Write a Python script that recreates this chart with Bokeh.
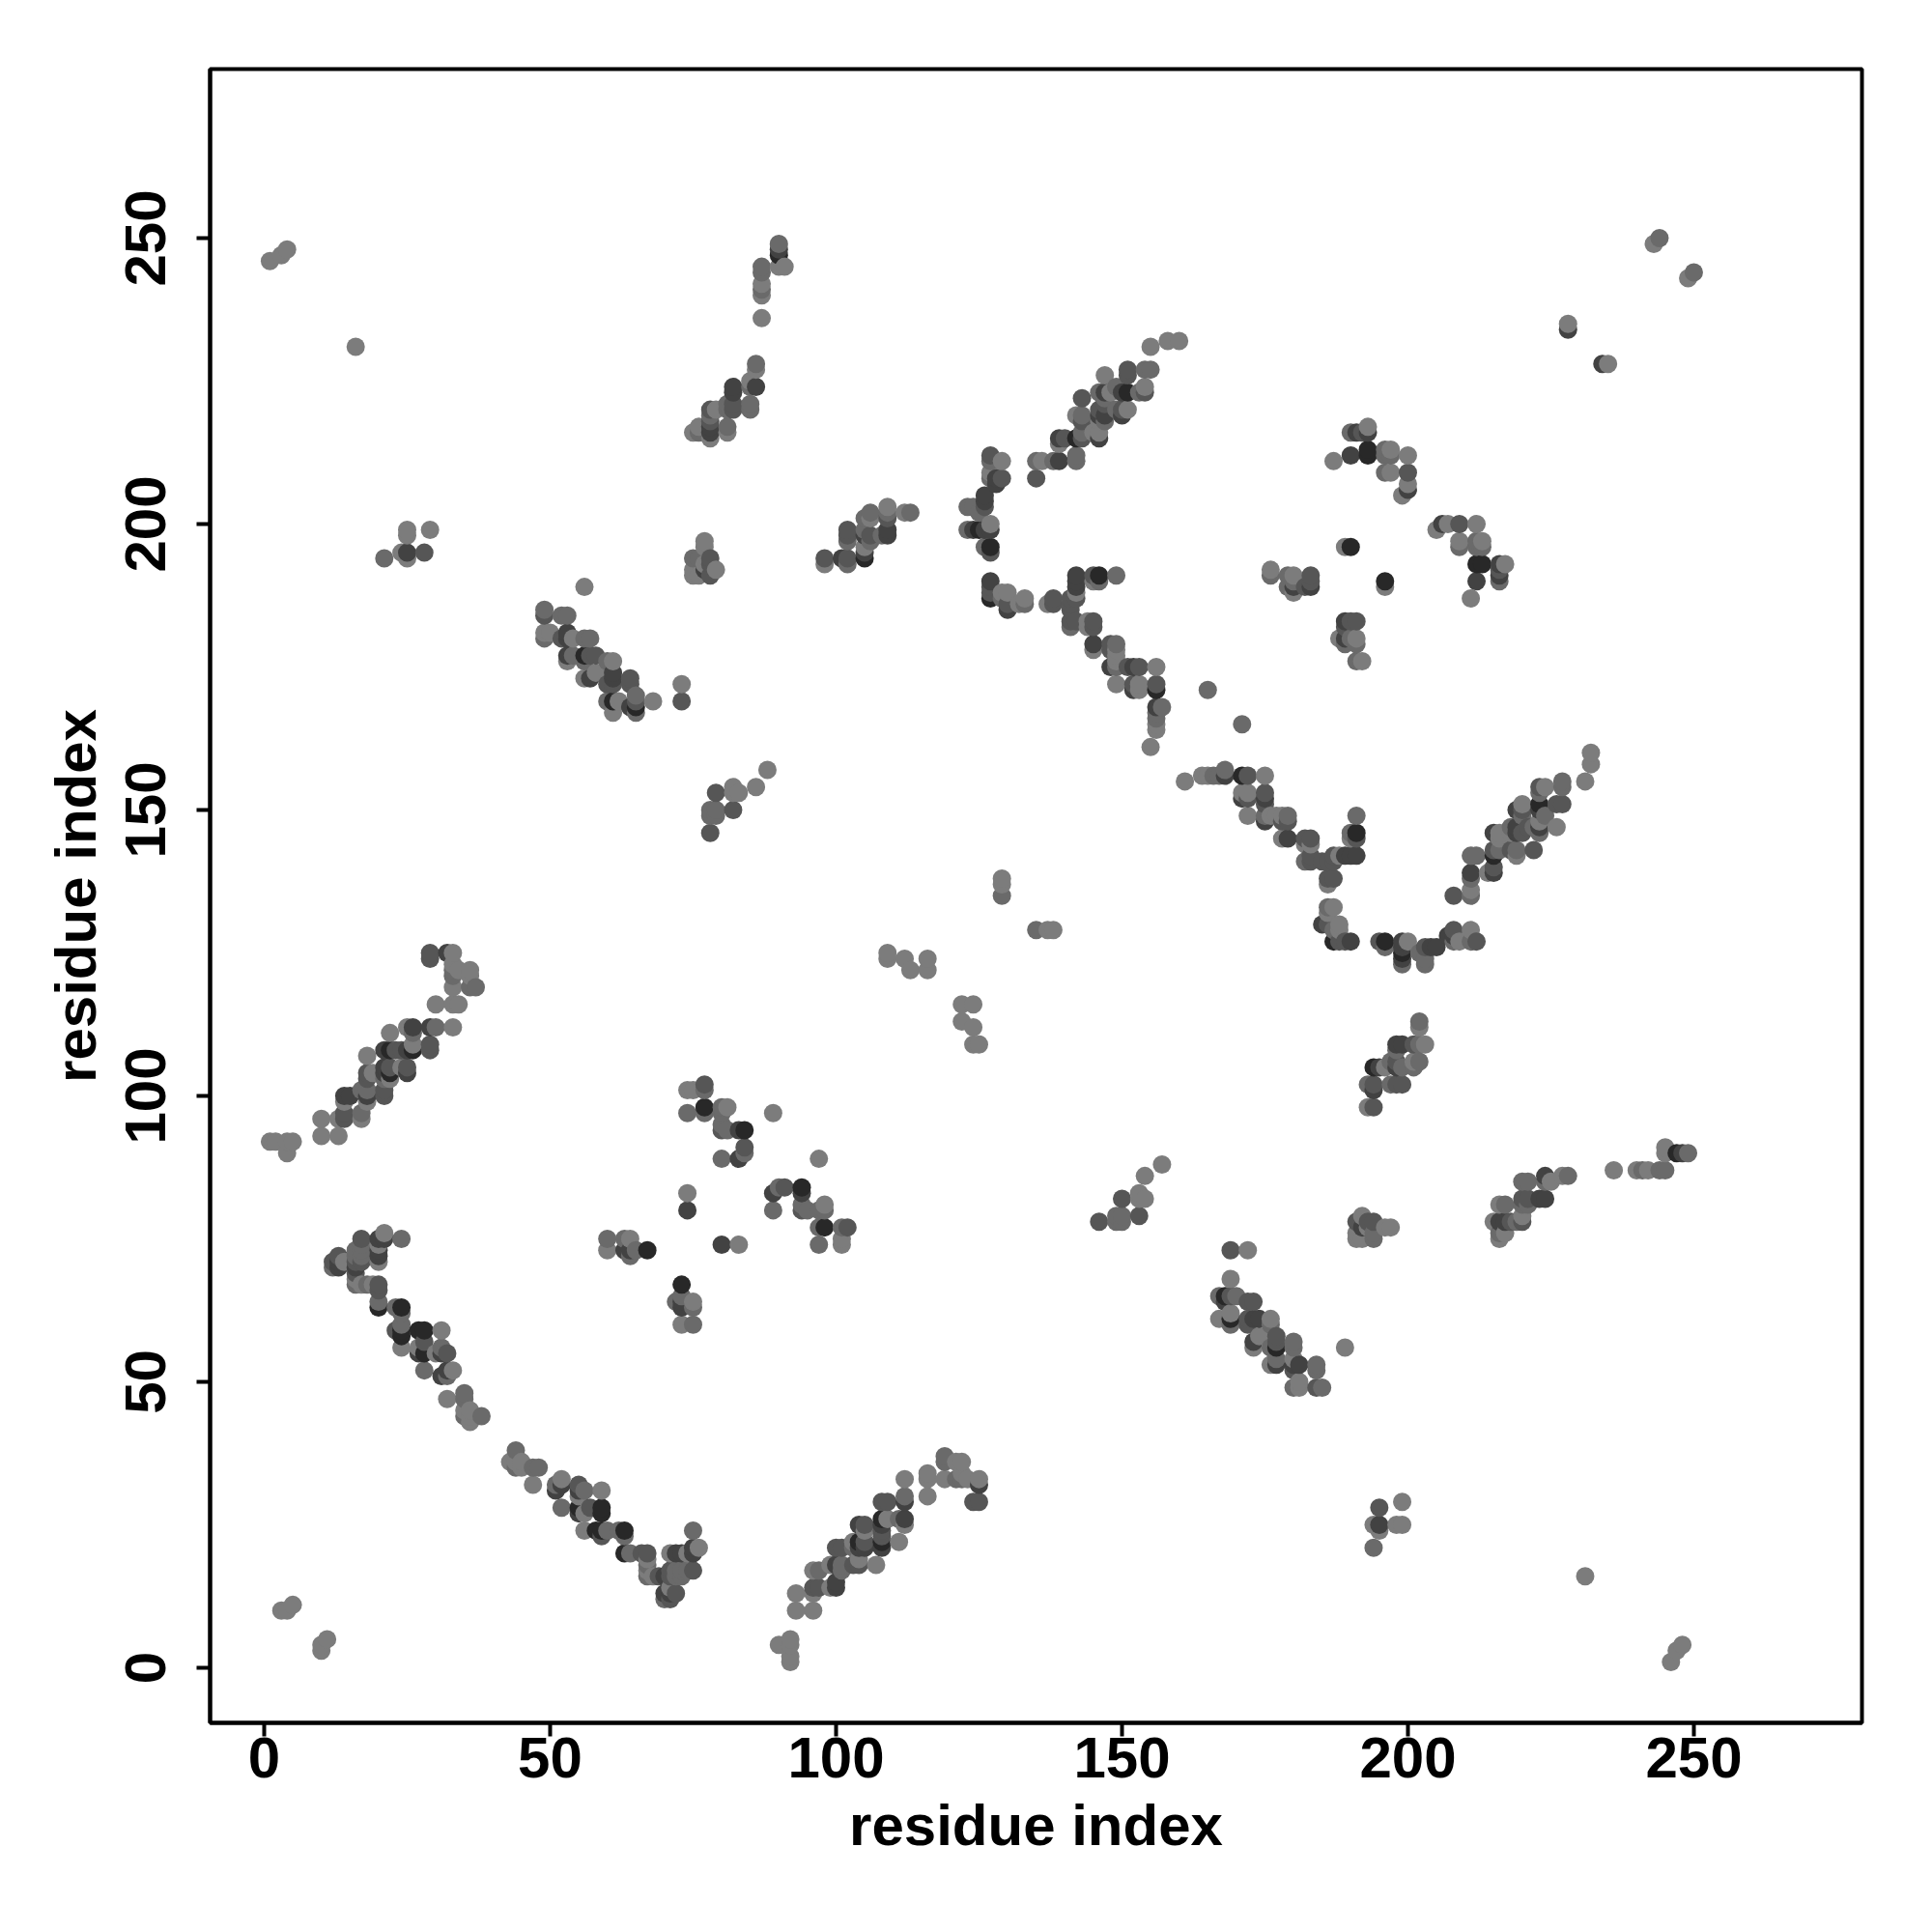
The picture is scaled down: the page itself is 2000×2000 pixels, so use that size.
from bokeh.plotting import figure
from bokeh.models import FixedTicker, Range1d, ColumnDataSource
from bokeh.embed import file_html
from bokeh.resources import INLINE
import numpy as np

# (residue i, residue j, contact strength level 1..5), i < j; the map is symmetric
strand_nterm = [(29,125,3),(29,124,3),(32,125,4),(33,125,1),(33,123,1),(33,122,2),(33,121,2),(34,122,1),(36,122,1),(36,121,1),(33,119,1),(36,119,2),(37,119,2),(30,116,1),(33,116,1),(34,116,1),(22,111,1),(25,112,1),(26,112,4),(26,111,2),(29,112,4),(30,112,2),(33,112,1),(29,109,3),(29,108,3),(26,109,1),(25,108,4),(26,108,5),(21,108,4),(22,108,5),(23,108,3),(24,108,3),(18,107,1),(21,105,4),(22,105,3),(24,105,1),(25,105,3),(25,104,4),(22,104,5),(21,104,4),(22,103,1),(21,103,2),(18,104,3),(19,104,1),(18,103,3),(17,101,2),(18,101,2),(18,100,4),(18,99,1),(21,100,3),(21,101,3),(14,100,4),(15,100,4),(14,99,1),(13,96,1),(14,96,3),(14,97,3),(17,97,2),(17,96,1),(10,96,1),(10,93,1),(13,93,1),(1,92,1),(2,92,1),(4,92,1),(5,92,1),(4,90,1)]
strand_cross = [(21,76,1),(20,75,4),(21,75,4),(24,75,2),(17,75,3),(17,74,2),(20,74,1),(20,73,4),(20,72,4),(20,71,1),(16,73,2),(17,73,2),(17,72,2),(16,70,4),(17,71,3),(16,71,3),(16,72,2),(16,69,3),(13,72,3),(12,71,3),(13,71,4),(14,71,1),(12,70,2),(13,70,4),(16,67,2),(16,68,1),(17,67,1),(18,67,2),(20,67,3),(20,66,3),(19,67,1),(20,64,2),(20,63,5),(23,63,2),(24,63,5),(24,62,2),(23,59,3),(24,60,2),(24,59,5),(24,58,5),(24,56,1),(27,59,5),(28,59,5),(31,59,1),(27,56,1),(27,55,4),(28,57,3),(28,55,5),(30,55,1),(31,56,2),(31,55,4),(32,55,3),(28,52,2),(31,51,4),(32,51,2),(32,52,4),(33,52,1),(32,47,1),(35,48,2),(35,47,2),(35,45,1),(36,45,1),(36,44,1),(36,43,1),(35,44,2),(38,44,2)]
strand_mid = [(56,189,1),(49,185,2),(49,184,3),(52,184,2),(53,184,2),(49,181,1),(49,180,2),(50,181,1),(52,180,3),(53,181,4),(53,180,4),(54,180,1),(56,180,2),(57,180,2),(53,177,4),(53,176,1),(54,177,2),(56,177,5),(57,177,3),(58,177,3),(56,176,2),(56,173,1),(57,173,4),(58,174,1),(60,176,2),(61,176,1),(61,174,4),(61,173,4),(61,172,3),(60,172,3),(60,169,2),(61,169,5),(61,167,1),(62,169,1),(64,173,3),(64,172,3),(65,170,2),(65,169,3),(65,168,5),(65,167,2),(64,168,4),(68,169,1),(73,172,1),(73,169,3)]
patch_150 = [(88,157,1),(86,154,1),(82,154,1),(83,153,1),(82,153,1),(79,153,3),(82,150,3),(78,150,2),(79,150,2),(78,149,2),(79,149,2),(78,146,3)]
strand_top = [(90,249,2),(90,248,4),(90,247,5),(90,245,1),(91,245,1),(87,245,2),(87,244,2),(87,242,1),(87,241,2),(87,240,1),(87,236,1),(86,228,2),(86,227,1),(85,225,1),(86,224,4),(85,224,2),(82,224,4),(82,223,4),(82,221,3),(82,220,3),(81,221,2),(81,220,2),(85,221,2),(85,220,2),(78,220,3),(79,220,1),(78,219,2),(78,218,3),(78,217,4),(78,216,4),(78,215,1),(81,217,2),(81,216,1),(76,217,1),(76,216,2),(75,216,1)]
strand_200 = [(113,202,2),(112,202,1),(109,203,1),(109,202,2),(109,201,3),(109,198,4),(109,199,4),(108,198,2),(106,202,2),(106,201,1),(105,201,2),(105,199,2),(106,198,3),(105,198,4),(106,197,2),(105,196,1),(105,194,5),(105,195,4),(102,198,3),(102,199,3),(102,197,2),(102,193,2),(102,194,3),(101,194,4),(98,193,1),(98,194,3)]
strand_upper = [(158,232,1),(160,232,1),(155,231,1),(155,227,2),(154,227,2),(151,227,3),(151,226,3),(147,226,1),(154,224,1),(154,223,3),(153,223,2),(151,223,5),(150,223,4),(149,224,2),(148,223,1),(147,223,4),(146,223,2),(143,222,3),(147,222,2),(147,221,3),(151,220,1),(150,220,3),(150,219,4),(149,220,2),(146,220,3),(147,219,4),(146,219,4),(147,218,2),(146,218,1),(142,219,1),(143,219,2),(143,218,3),(146,216,1),(146,215,4),(145,216,1),(143,216,2),(142,215,5),(143,215,3),(139,215,4),(140,215,3),(139,214,1),(142,212,2),(142,211,2),(139,211,4),(138,211,2),(135,211,2),(136,211,1),(135,208,3),(127,212,3),(127,211,2),(129,211,1),(127,209,1),(128,208,4),(128,207,4),(129,208,3),(127,208,2),(126,205,4),(126,204,4),(126,203,3),(123,203,2),(124,203,2),(125,202,2),(127,200,1),(127,199,4),(123,199,2),(124,199,4),(125,199,5),(126,199,4),(127,196,5),(126,196,2),(127,195,3)]
strand_lower = [(127,190,4),(127,189,3),(127,188,3),(127,187,5),(129,188,1),(130,188,1),(129,187,2),(130,185,4),(130,186,3),(132,186,1),(133,187,1),(133,186,2),(137,186,1),(138,187,3),(138,186,3),(142,191,4),(142,190,4),(142,189,4),(142,188,1),(141,187,3),(142,187,3),(141,186,3),(141,185,3),(145,191,3),(145,190,1),(146,191,5),(146,190,2),(149,191,2),(141,183,3),(142,183,3),(141,182,2),(144,183,1),(145,183,3),(145,182,3),(144,182,1),(145,179,4),(145,178,1),(148,179,3),(149,179,2),(149,178,1),(148,178,3),(148,175,4),(149,176,1),(149,175,2),(149,177,1),(149,172,1),(151,175,3),(152,175,4),(153,175,3),(156,175,1),(152,172,3),(153,172,1),(152,171,4),(153,171,1),(156,172,3),(156,171,5),(157,168,2),(156,168,4),(156,167,2),(156,166,2),(156,165,1),(156,164,1),(155,161,1),(165,171,2)]
patch_210 = [(187,211,1),(190,212,4),(193,213,5),(193,212,5),(190,216,2),(191,216,4),(192,216,3),(193,217,1),(193,216,4),(196,213,2),(197,213,1),(197,212,2),(196,212,2),(200,212,1),(196,209,2),(197,209,1),(200,209,3),(200,207,1),(200,206,4),(199,205,1),(190,196,5),(189,196,1),(176,192,1),(176,191,2),(179,191,2),(180,191,1),(179,189,2),(180,190,2),(180,189,4),(180,188,1),(183,191,3),(183,190,3),(183,189,4),(182,189,3)]
small_loops = [(129,138,1),(129,137,1),(129,135,2),(109,125,1),(109,124,1),(112,124,1),(113,122,1),(116,122,1),(116,124,1),(1,246,1),(3,247,1),(4,248,1),(16,231,1),(3,10,1),(4,10,1),(5,11,1),(228,234,4),(228,235,1),(243,249,1),(244,250,2)]
patch_195 = [(21,194,2),(24,195,1),(25,199,1),(25,198,1),(25,195,4),(25,194,1),(28,195,3),(29,199,1),(77,197,1),(77,196,1),(75,194,2),(75,192,1),(75,191,1),(76,194,2),(76,191,1),(77,192,4),(78,194,3),(78,193,3),(79,192,1),(78,191,3),(77,193,1)]
patch_85 = [(74,101,1),(75,101,1),(77,102,3),(77,101,2),(74,97,2),(77,98,5),(77,97,2),(80,98,2),(81,98,1),(80,97,2),(89,97,1),(80,94,3),(81,94,2),(84,94,5),(83,94,4),(80,95,2),(84,91,3),(84,90,2),(83,89,4),(80,89,2),(74,83,1),(74,80,4),(60,75,2),(60,73,1),(63,75,2),(64,75,1),(63,73,4),(64,73,4),(64,72,2),(65,73,2),(67,73,5)]

level_gray = {1: "#7c7c7c", 2: "#6a6a6a", 3: "#565656", 4: "#424242", 5: "#282828"}
tick_values = [0, 50, 100, 150, 200, 250]

pairs = (strand_nterm + strand_cross + strand_mid + patch_150 + strand_top + strand_200
         + strand_upper + strand_lower + patch_210 + small_loops + patch_195 + patch_85)
seen = {}
for i, j, s in pairs:
    seen[(i, j)] = s
    seen[(j, i)] = s
keys = sorted(seen)
source = ColumnDataSource(dict(x=[k[0] for k in keys], y=[k[1] for k in keys],
                               color=[level_gray[seen[k]] for k in keys]))

p = figure(frame_width=1710, frame_height=1712, output_backend="svg", toolbar_location=None,
           x_range=Range1d(-9.46, 279.4), y_range=Range1d(-9.63, 279.56),
           min_border_left=217, min_border_right=49, min_border_top=71, min_border_bottom=195,
           background_fill_color="white")
p.scatter("x", "y", source=source, marker="circle", size=19, color="color", line_color=None)

p.grid.visible = False
p.outline_line_color = "black"
p.outline_line_width = 4
for ax in (p.xaxis[0], p.yaxis[0]):
    ax.ticker = FixedTicker(ticks=tick_values)
    ax.minor_tick_line_color = None
    ax.axis_line_color = "black"
    ax.axis_line_width = 4
    ax.major_tick_line_color = "black"
    ax.major_tick_line_width = 4
    ax.major_tick_out = 14
    ax.major_tick_in = 0
    ax.major_label_text_font = "Liberation Sans"
    ax.major_label_text_font_style = "bold"
    ax.major_label_text_font_size = "60px"
    ax.major_label_text_color = "black"
    ax.axis_label = "residue index"
    ax.axis_label_text_font = "Liberation Sans"
    ax.axis_label_text_font_style = "bold"
    ax.axis_label_text_font_size = "60px"
    ax.axis_label_text_color = "black"
p.yaxis[0].major_label_orientation = "vertical"
p.xaxis[0].major_label_standoff = 1
p.yaxis[0].major_label_standoff = 32
p.xaxis[0].axis_label_standoff = 13
p.yaxis[0].axis_label_standoff = 16

open("out.html", "w").write(file_html(p, INLINE))
